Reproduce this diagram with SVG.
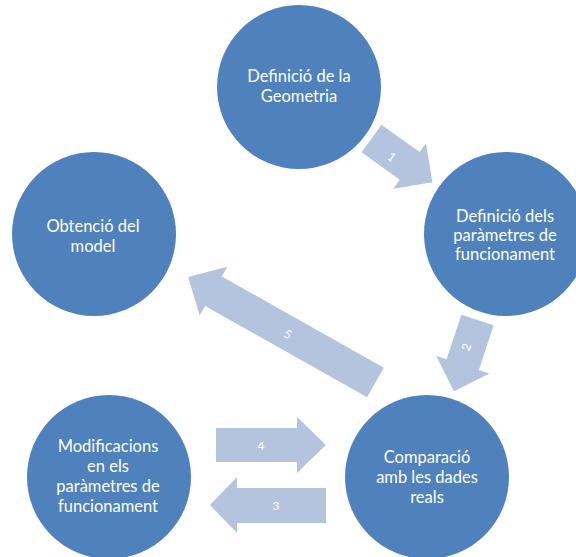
<svg xmlns="http://www.w3.org/2000/svg" width="576" height="557" viewBox="0 0 576 557">
  <defs>
    <style>
      .node { fill: #4F81BD; }
      .node-text { fill: #FFFFFF; font-family: Lato, "Open Sans", "Liberation Sans", sans-serif; font-size: 16.5px; text-anchor: middle; }
      .arrow { fill: #B4C4DF; }
      .arrow-text { fill: #FFFFFF; font-family: Lato, "Open Sans", "Liberation Sans", sans-serif; font-size: 12px; text-anchor: middle; dominant-baseline: central; }
    </style>
    <!-- block arrow shapes, drawn along +x from the tail -->
    <polygon id="short-arrow" points="0,-17 47,-17 47,-28 75,0 47,28 47,17 0,17"/>
    <polygon id="long-arrow" points="0,-17 186,-17 186,-28 215,0 186,28 186,17 0,17"/>
  </defs>

  <rect width="576" height="557" fill="#FFFFFF"/>

  <!-- connectors -->
  <g id="connectors">
    <g id="arrow-1">
      <use href="#short-arrow" class="arrow" transform="translate(371.5,138.5) rotate(35.7)"/>
      <text class="arrow-text" transform="translate(392,157) rotate(35.7)">1</text>
    </g>
    <g id="arrow-2">
      <use href="#short-arrow" class="arrow" transform="translate(477.5,320) rotate(108.3)"/>
      <text class="arrow-text" transform="translate(466,347) rotate(-71.7)">2</text>
    </g>
    <g id="arrow-3">
      <polygon class="arrow" points="326,488 237,488 237,477 210,505 237,533 237,523 326,523"/>
      <text class="arrow-text" x="276" y="505">3</text>
    </g>
    <g id="arrow-4">
      <polygon class="arrow" points="216,428 297,428 297,417 326,445 297,473 297,462 216,462"/>
      <text class="arrow-text" x="261" y="445">4</text>
    </g>
    <g id="arrow-5">
      <use href="#long-arrow" class="arrow" transform="translate(375.5,382.5) rotate(209.4)"/>
      <text class="arrow-text" transform="translate(288,334) rotate(29.4)">5</text>
    </g>
  </g>

  <!-- nodes -->
  <g id="node-geometria">
    <circle class="node" cx="299" cy="87" r="82"/>
    <text class="node-text" x="299" y="82">Definició de la</text>
    <text class="node-text" x="299" y="102">Geometria</text>
  </g>
  <g id="node-parametres">
    <circle class="node" cx="506" cy="234" r="82"/>
    <text class="node-text" x="505" y="222">Definició dels</text>
    <text class="node-text" x="505" y="241">paràmetres de</text>
    <text class="node-text" x="505" y="260">funcionament</text>
  </g>
  <g id="node-comparacio">
    <circle class="node" cx="427" cy="477" r="82"/>
    <text class="node-text" x="427" y="463">Comparació</text>
    <text class="node-text" x="427" y="483">amb les dades</text>
    <text class="node-text" x="427" y="503">reals</text>
  </g>
  <g id="node-modificacions">
    <circle class="node" cx="109" cy="477" r="82"/>
    <text class="node-text" x="108" y="452">Modificacions</text>
    <text class="node-text" x="108" y="472">en els</text>
    <text class="node-text" x="108" y="492">paràmetres de</text>
    <text class="node-text" x="108" y="512">funcionament</text>
  </g>
  <g id="node-model">
    <circle class="node" cx="94" cy="234" r="82"/>
    <text class="node-text" x="93" y="232">Obtenció del</text>
    <text class="node-text" x="93" y="252">model</text>
  </g>
</svg>
